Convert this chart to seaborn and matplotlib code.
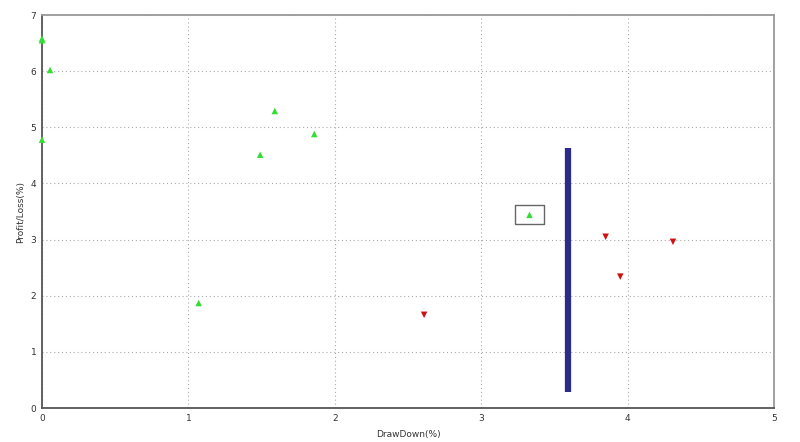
import matplotlib
matplotlib.use("Agg")
import matplotlib.pyplot as plt
import seaborn as sns
import pandas as pd
from matplotlib.ticker import MultipleLocator

sns.set_style("white")
plt.rcParams['font.family'] = ['DejaVu Sans']

# Profit points (green up-triangles)
win_dd = [0.0, 0.0, 0.055, 0.0, 1.59, 1.86, 1.49, 1.07, 3.33]
win_pl = [6.58, 6.55, 6.02, 4.78, 5.29, 4.88, 4.51, 1.87, 3.44]
# Loss points (red down-triangles)
loss_dd = [2.61, 3.85, 4.31, 3.95]
loss_pl = [1.66, 3.05, 2.96, 2.34]
# Highlighted point
sel_dd = [3.33]
sel_pl = [3.44]
# Vertical range bar
bar_x = [3.59]
bar_lo = [0.285]
bar_hi = [4.63]

win = pd.DataFrame({"dd": win_dd, "pl": win_pl})
loss = pd.DataFrame({"dd": loss_dd, "pl": loss_pl})
sel = pd.DataFrame({"dd": sel_dd, "pl": sel_pl})

fig = plt.figure(figsize=(8, 4.42), dpi=100)
ax = fig.add_axes([42/800, 1-408/442, (774-42)/800, (408-15)/442])

ax.vlines(bar_x, bar_lo, bar_hi, color="#2b2b8c", linewidth=4.5, zorder=3)
sns.scatterplot(data=win, x="dd", y="pl", marker="^", color="#33dd33", s=22,
                edgecolor="none", ax=ax, zorder=4, clip_on=False)
sns.scatterplot(data=loss, x="dd", y="pl", marker="v", color="#cc1111", s=22,
                edgecolor="none", ax=ax, zorder=4)
rect_marker = [(-1.5, -1), (1.5, -1), (1.5, 1), (-1.5, 1), (-1.5, -1)]
sns.scatterplot(data=sel, x="dd", y="pl", marker=rect_marker, s=420, facecolor="none",
                edgecolor="#666666", linewidth=1.0, ax=ax, zorder=3)

ax.set_xlim(0, 5)
ax.set_ylim(0, 7)
ax.xaxis.set_major_locator(MultipleLocator(1))
ax.yaxis.set_major_locator(MultipleLocator(1))
ax.xaxis.set_minor_locator(MultipleLocator(0.5))
ax.yaxis.set_minor_locator(MultipleLocator(0.5))
ax.grid(True, which="major", color="#aaaaaa", linestyle=(0, (1, 2.5)), linewidth=0.8)
ax.tick_params(which="both", direction="inout", length=4, width=0.8, colors="#555555",
               labelsize=6.5, labelcolor="#333333", pad=2)
ax.tick_params(which="minor", length=3)
for side in ["left", "bottom"]:
    ax.spines[side].set_color("#555555")
    ax.spines[side].set_linewidth(1.3)
for side in ["top", "right"]:
    ax.spines[side].set_color("#999999")
    ax.spines[side].set_linewidth(1.3)

ax.set_xlabel("DrawDown(%)", fontsize=6.5, color="#333333", labelpad=5)
ax.set_ylabel("Profit/Loss(%)", fontsize=6.5, color="#333333", labelpad=4)

fig.savefig("out.png", dpi=100)
